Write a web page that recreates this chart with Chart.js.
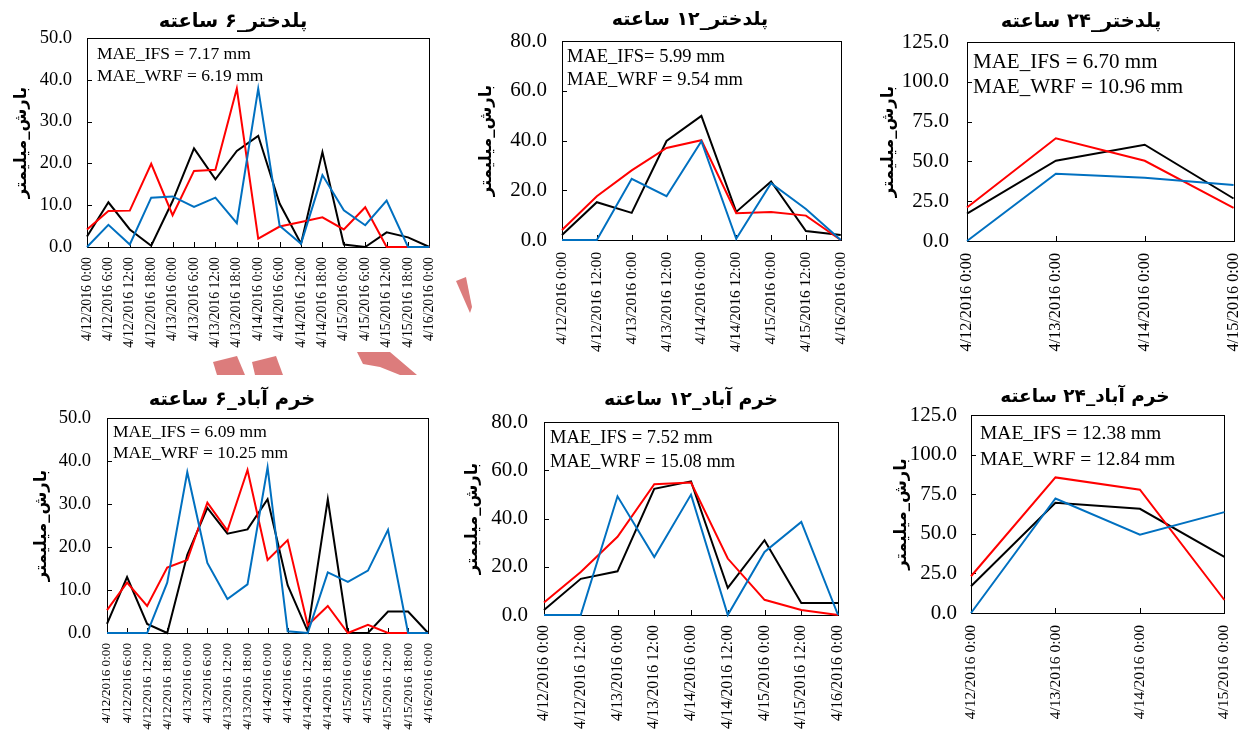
<!DOCTYPE html>
<html><head><meta charset="utf-8">
<script src="https://cdn.jsdelivr.net/npm/chart.js@4.4.1/dist/chart.umd.min.js"></script>
<style>
html,body{margin:0;padding:0;background:#fff;width:1248px;height:732px;overflow:hidden;position:relative}
canvas{position:absolute}
.deco{position:absolute;background:#DC7C7C}
</style></head><body>
<div class="deco" style="left:213px;top:356px;width:32px;height:19px;clip-path:polygon(0 6px,24px 0,32px 19px,4px 19px)"></div>
<div class="deco" style="left:252px;top:356px;width:31px;height:19px;clip-path:polygon(0 6px,24px 0,31px 19px,3px 19px)"></div>
<div class="deco" style="left:357px;top:352px;width:60px;height:23px;clip-path:polygon(0 0,33px 0,60px 23px,43px 23px,23px 15px,6px 12px)"></div>
<div class="deco" style="left:456px;top:277px;width:16px;height:36px;clip-path:polygon(0 4px,10px 0,16px 30px,14px 36px)"></div>
<script>
// ---- tick labels ----
const labels6 = ['4/12/2016 0:00','4/12/2016 6:00','4/12/2016 12:00','4/12/2016 18:00',
  '4/13/2016 0:00','4/13/2016 6:00','4/13/2016 12:00','4/13/2016 18:00',
  '4/14/2016 0:00','4/14/2016 6:00','4/14/2016 12:00','4/14/2016 18:00',
  '4/15/2016 0:00','4/15/2016 6:00','4/15/2016 12:00','4/15/2016 18:00','4/16/2016 0:00'];
const labels12 = ['4/12/2016 0:00','4/12/2016 12:00','4/13/2016 0:00','4/13/2016 12:00',
  '4/14/2016 0:00','4/14/2016 12:00','4/15/2016 0:00','4/15/2016 12:00','4/16/2016 0:00'];
const labels24 = ['4/12/2016 0:00','4/13/2016 0:00','4/14/2016 0:00','4/15/2016 0:00'];

// ---- Poldokhtar (پلدختر) ----
const pol6Obs = [2.5,10.7,4.2,0.3,11.0,23.6,16.2,23.0,26.6,10.4,0.8,22.7,0.6,0,3.5,2.3,0];
const pol6Ifs = [4.2,8.6,8.7,19.9,7.6,18.2,18.5,37.9,2.0,4.9,6.0,7.1,4.2,9.5,0,0,0];
const pol6Wrf = [0,5.3,0.6,11.8,12.1,9.6,11.8,5.7,37.9,5.1,0.8,17.2,8.8,5.2,11.1,0,0];

const pol12Obs = [2.0,15.2,10.9,39.8,49.9,11.3,23.5,3.6,2.0];
const pol12Ifs = [4.0,17.6,28.0,37.0,40.1,10.8,11.3,9.8,0];
const pol12Wrf = [0,0,24.6,17.6,39.7,0.5,22.8,12.5,0];

const pol24Obs = [17.2,50.4,60.5,26.7];
const pol24Ifs = [21.0,64.5,50.4,20.8];
const pol24Wrf = [0,42.2,39.7,35.1];

// ---- Khorramabad (خرم آباد) ----
const kh6Obs = [2.1,13.0,2.1,0,18.2,29.1,23.1,24.1,31.1,11.1,0.4,31.1,0,0,5.0,5.0,0];
const kh6Ifs = [5.3,11.7,6.3,15.2,17.0,30.3,23.8,37.9,17.0,21.6,1.8,6.3,0,1.9,0,0,0];
const kh6Wrf = [0,0,0,11.7,37.4,16.3,7.9,11.3,38.5,0.4,0,14.1,11.9,14.5,24.0,0,0];

const kh12Obs = [2.1,15.0,18.1,52.3,55.4,11.2,31.0,5.0,5.0];
const kh12Ifs = [5.2,17.8,32.4,54.2,54.9,23.4,6.3,2.1,0];
const kh12Wrf = [0,0,49.2,24.0,49.9,0,26.1,38.6,0];

const kh24Obs = [16.9,69.6,65.8,35.4];
const kh24Ifs = [23.2,85.6,77.8,8.2];
const kh24Wrf = [0,72.3,49.5,63.7];

// ---- titles / annotations ----
const titles = ['پلدختر_۶ ساعته','پلدختر_۱۲ ساعته','پلدختر_۲۴ ساعته','خرم آباد_۶ ساعته','خرم آباد_۱۲ ساعته','خرم آباد_۲۴ ساعته'];
const maeTexts = [
  ['MAE_IFS = 7.17 mm','MAE_WRF = 6.19 mm'],
  ['MAE_IFS= 5.99 mm','MAE_WRF = 9.54 mm'],
  ['MAE_IFS = 6.70 mm','MAE_WRF = 10.96 mm'],
  ['MAE_IFS = 6.09 mm','MAE_WRF = 10.25 mm'],
  ['MAE_IFS = 7.52 mm','MAE_WRF = 15.08 mm'],
  ['MAE_IFS = 12.38 mm','MAE_WRF = 12.84 mm']
];
const yAxisTitle = 'بارش_میلیمتر';
const yMaxes = [50,80,125,50,80,125];
const ySteps = [10,20,25,10,20,25];

// ---- layout (page coords) ----
const layouts = [
  {L:0,  T:0,  W:456, H:372, plot:[87,38,431,247],  yTitleX:22,  titlePos:[233,22],  titleSize:19.5, mae:[97,54,76],   maeSize:17.5, yFont:18.5, yPad:15, xFont:13.8, xPad:10},
  {L:455,T:0,  W:416, H:372, plot:[562,41,846,240], yTitleX:487, titlePos:[690,20],  titleSize:19,   mae:[567,57,80],  maeSize:18.5, yFont:21, yPad:15, xFont:15.2, xPad:12},
  {L:865,T:0,  W:400, H:372, plot:[967,42,1240,241],yTitleX:889, titlePos:[1081,22], titleSize:19.5, mae:[973,62,87],  maeSize:21,   yFont:21, yPad:18, xFont:16.2, xPad:12},
  {L:0,  T:380,W:454, H:352, plot:[107,418,429,633],yTitleX:42,  titlePos:[232,400], titleSize:19.5, mae:[113,432,453],maeSize:17.5, yFont:18.5, yPad:16, xFont:13.2, xPad:10},
  {L:455,T:380,W:412, H:352, plot:[544,422,842,615],yTitleX:473, titlePos:[691,400], titleSize:19,   mae:[550,438,462],maeSize:18.5, yFont:21, yPad:16, xFont:15.8, xPad:10},
  {L:865,T:380,W:390, H:352, plot:[971,415,1230,613],yTitleX:902,titlePos:[1085,397],titleSize:18.5, mae:[980,434,460],maeSize:19.5, yFont:21, yPad:14, xFont:15.5, xPad:12}
];
const seriesSets = [
  [labels6, pol6Obs, pol6Ifs, pol6Wrf],
  [labels12, pol12Obs, pol12Ifs, pol12Wrf],
  [labels24, pol24Obs, pol24Ifs, pol24Wrf],
  [labels6, kh6Obs, kh6Ifs, kh6Wrf],
  [labels12, kh12Obs, kh12Ifs, kh12Wrf],
  [labels24, kh24Obs, kh24Ifs, kh24Wrf]
];

function makeChart(i) {
  const c = layouts[i];
  const [labels, obs, ifs, wrf] = seriesSets[i];
  const cv = document.createElement('canvas');
  cv.width = c.W; cv.height = c.H;
  cv.style.left = c.L + 'px'; cv.style.top = c.T + 'px';
  document.body.appendChild(cv);
  const [x0, y0, x1, y1] = c.plot;
  const ytSize = 16.5, ytLH = ytSize * 1.2;
  const padL = c.yTitleX - c.L - ytLH / 2;
  const padT = y0 - c.T;
  const padR = c.L + c.W - x1;
  const padB = 2;
  const yW = x0 - c.L - padL;
  const xH = c.T + c.H - padB - y1;

  const annot = {
    id: 'annot' + i,
    beforeDatasetsDraw(chart) {
      const {ctx, chartArea: a, scales: {x, y}} = chart;
      ctx.save();
      ctx.strokeStyle = '#000'; ctx.lineWidth = 1;
      ctx.strokeRect(Math.round(a.left) + 0.5, Math.round(a.top) + 0.5, Math.round(a.right - a.left), Math.round(a.bottom - a.top));
      ctx.beginPath();
      y.ticks.forEach((t, k) => {
        const py = Math.round(y.getPixelForTick(k)) + 0.5;
        ctx.moveTo(a.left, py); ctx.lineTo(a.left + 5, py);
      });
      x.ticks.forEach((t, k) => {
        const px = Math.round(x.getPixelForTick(k)) + 0.5;
        ctx.moveTo(px, a.bottom); ctx.lineTo(px, a.bottom - 5);
      });
      ctx.stroke();
      ctx.restore();
    },
    afterDraw(chart) {
      const ctx = chart.ctx;
      ctx.save();
      ctx.fillStyle = '#000';
      ctx.textBaseline = 'middle';
      ctx.textAlign = 'center';
      ctx.direction = 'rtl';
      ctx.font = 'bold ' + c.titleSize + 'px "DejaVu Sans"';
      ctx.fillText(titles[i], c.titlePos[0] - c.L, c.titlePos[1] - c.T);
      ctx.direction = 'ltr';
      ctx.textAlign = 'left';
      ctx.font = c.maeSize + 'px "Liberation Serif"';
      ctx.fillText(maeTexts[i][0], c.mae[0] - c.L, c.mae[1] - c.T);
      ctx.fillText(maeTexts[i][1], c.mae[0] - c.L, c.mae[2] - c.T);
      ctx.restore();
    }
  };

  const common = {borderWidth: 2, pointRadius: 0, tension: 0, fill: false, clip: false};
  new Chart(cv, {
    type: 'line',
    data: {
      labels: labels,
      datasets: [
        Object.assign({label: 'WRF', data: wrf, borderColor: '#0070C0'}, common),
        Object.assign({label: 'IFS', data: ifs, borderColor: '#FF0000'}, common),
        Object.assign({label: 'Observed', data: obs, borderColor: '#000000'}, common)
      ]
    },
    options: {
      responsive: false, animation: false, devicePixelRatio: 1,
      layout: {padding: {left: padL, top: padT, right: padR, bottom: padB}},
      plugins: {legend: {display: false}, tooltip: {enabled: false}, title: {display: false}},
      scales: {
        x: {
          type: 'category', offset: false,
          grid: {display: false, drawTicks: false}, border: {display: false},
          ticks: {autoSkip: false, maxRotation: 90, minRotation: 90, padding: c.xPad, color: '#000',
                  font: {family: '"Liberation Serif"', size: c.xFont}},
          afterFit: s => { s.height = xH; }
        },
        y: {
          min: 0, max: yMaxes[i],
          grid: {display: false, drawTicks: false}, border: {display: false},
          ticks: {stepSize: ySteps[i], padding: c.yPad, color: '#000',
                  font: {family: '"Liberation Serif"', size: c.yFont},
                  callback: v => Number(v).toFixed(1)},
          title: {display: true, text: yAxisTitle, color: '#000', padding: 0,
                  font: {family: '"DejaVu Sans"', weight: 'bold', size: ytSize, lineHeight: 1.2}},
          afterFit: s => { s.width = yW; }
        }
      }
    },
    plugins: [annot]
  });
}
for (let i = 0; i < 6; i++) makeChart(i);
</script>
</body></html>
